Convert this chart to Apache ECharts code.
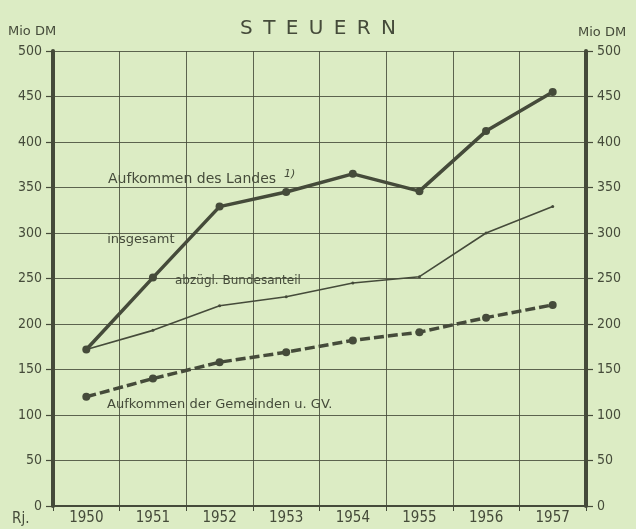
<!DOCTYPE html>
<html>
<head>
<meta charset="utf-8">
<script src="https://cdn.jsdelivr.net/npm/echarts@6/dist/echarts.min.js"></script>
<style>
html,body{margin:0;padding:0;background:#dcecc4;}
#c{width:636px;height:529px;}
</style>
</head>
<body>
<div id="c"></div>
<script>
var years = ['1950','1951','1952','1953','1954','1955','1956','1957'];
var landesInsgesamt = [172, 251, 329, 345, 365, 346, 412, 455];
var landesAbzBund = [172, 193, 220, 230, 245, 252, 300, 329];
var gemeinden = [120, 140, 158, 169, 182, 191, 207, 221];

var ink = '#454b3a';
var bg = '#dcecc4';
var cond = '"DejaVu Sans Condensed", "DejaVu Sans", sans-serif';
var sans = '"DejaVu Sans", sans-serif';
var chart = echarts.init(document.getElementById('c'));
var yAxisBase = {
  type: 'value', min: 0, max: 500, interval: 50,
  axisLine: {show: true, lineStyle: {color: ink, width: 4}},
  axisTick: {show: true, length: 7, lineStyle: {color: ink, width: 1.2}},
  splitLine: {show: true, lineStyle: {color: ink, width: 1, opacity: 0.85}},
  axisLabel: {color: ink, fontFamily: cond, fontSize: 14, margin: 11}
};
chart.setOption({
  backgroundColor: bg,
  animation: false,
  title: {
    text: 'S \u2009T \u2009E \u2009U \u2009E \u2009R \u2009N', left: 'center', top: 14,
    textStyle: {color: ink, fontFamily: sans, fontSize: 20, fontWeight: 500}
  },
  grid: {left: 53, right: 50, top: 51, bottom: 23},
  xAxis: {
    type: 'category', data: years, boundaryGap: true,
    axisLine: {show: true, lineStyle: {color: ink, width: 2}},
    axisTick: {show: true, length: 5, lineStyle: {color: ink}},
    splitLine: {show: true, lineStyle: {color: ink, width: 1, opacity: 0.85}},
    axisLabel: {color: ink, fontFamily: cond, fontSize: 15, margin: 5}
  },
  yAxis: [
    Object.assign({}, yAxisBase, {position: 'left'}),
    Object.assign({}, yAxisBase, {position: 'right', splitLine: {show: false}})
  ],
  graphic: [
    {type: 'text', left: 8, top: 25, style: {text: 'Mio DM', fill: ink, font: '13px ' + sans}},
    {type: 'text', left: 578, top: 26, style: {text: 'Mio DM', fill: ink, font: '13px ' + sans}},
    {type: 'text', left: 12, top: 512, style: {text: 'Rj.', fill: ink, font: '15px ' + cond}},
    {type: 'text', left: 108, top: 172, style: {text: 'Aufkommen des Landes', fill: ink, font: '14px ' + sans}},
    {type: 'text', left: 284, top: 169, style: {text: '1)', fill: ink, font: 'italic 11px ' + sans}},
    {type: 'text', left: 103, top: 233, style: {text: ' insgesamt ', fill: ink, font: '13px ' + sans, backgroundColor: bg}},
    {type: 'text', left: 175, top: 275, style: {text: 'abzügl. Bundesanteil', fill: ink, font: '12px ' + sans}},
    {type: 'text', left: 107, top: 398, style: {text: 'Aufkommen der Gemeinden u. GV.', fill: ink, font: '13px ' + sans}}
  ],
  series: [
    {
      type: 'line', data: landesInsgesamt, symbol: 'circle', symbolSize: 8,
      lineStyle: {color: ink, width: 3.5}, itemStyle: {color: ink}, z: 5
    },
    {
      type: 'line', data: landesAbzBund, symbol: 'circle', symbolSize: 3,
      lineStyle: {color: ink, width: 1.6}, itemStyle: {color: ink}, z: 4
    },
    {
      type: 'line', data: gemeinden, symbol: 'circle', symbolSize: 8,
      lineStyle: {color: ink, width: 3.5, type: [10, 4]}, itemStyle: {color: ink}, z: 5
    }
  ]
});
</script>
</body>
</html>
